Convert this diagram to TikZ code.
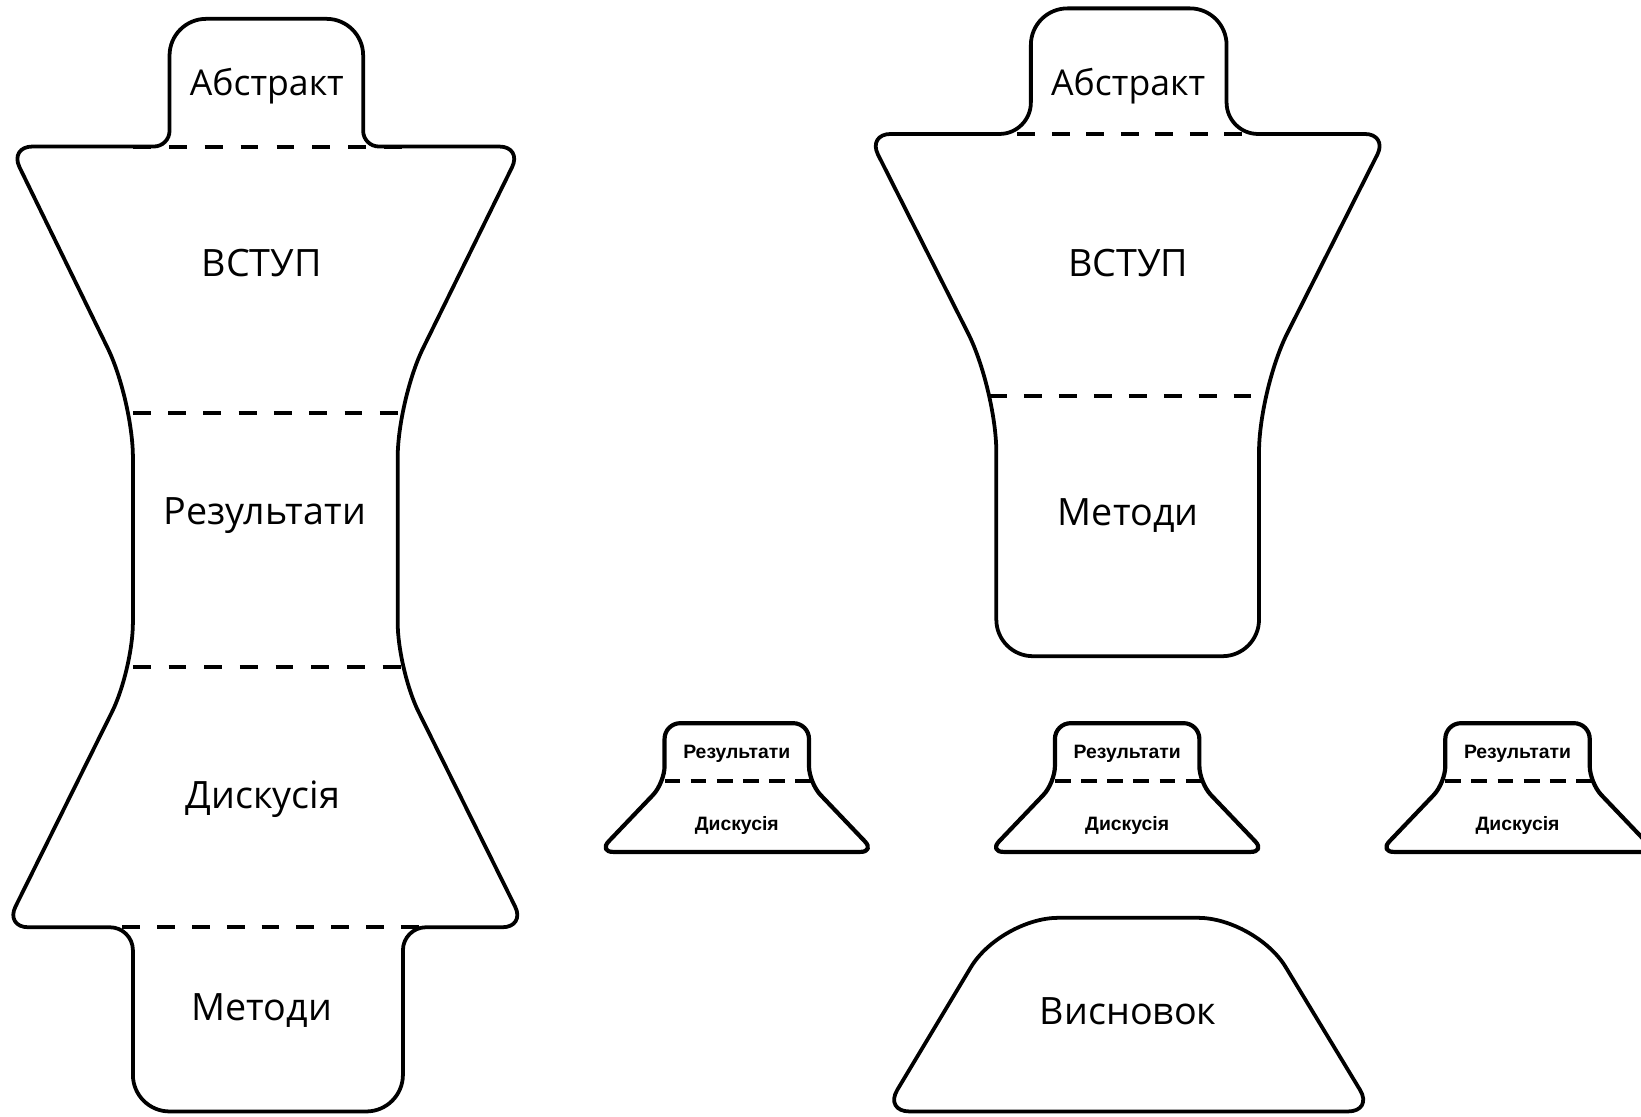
\documentclass[tikz,border=0pt]{standalone}
\usepackage{fontspec}
\setmainfont{Open Sans}
\newfontfamily\smallfnt{Liberation Sans}
\begin{document}
\begin{tikzpicture}[x=1pt,y=-1pt,
  outline/.style={draw=black,line width=3.6pt,line join=round},
  smalloutline/.style={draw=black,line width=4pt,line join=round},
  cutline/.style={draw=black,line width=3.8pt,dash pattern=on 17pt off #1pt},
  smallcut/.style={draw=black,line width=4.2pt,dash pattern=on 15pt off 10pt},
  biglabel/.style={font=\fontsize{36}{40}\selectfont,inner sep=0pt},
  smalllabel/.style={font=\smallfnt\bfseries\fontsize{18.5}{20}\selectfont,inner sep=0pt}]
\useasboundingbox (0,0) rectangle (1568,1066.35);

% ---------- left figure ----------
\path[outline] (254,18) [rounded corners=35pt] -- (347,18)
  [rounded corners=15pt] -- (347,140)
  [rounded corners=22pt] -- (499,140)
  [rounded corners=55pt] -- (380,382)
  [rounded corners=45pt] -- (380,640)
  [rounded corners=22pt] -- (502,886)
  [rounded corners=22pt] -- (385,886)
  [rounded corners=35pt] -- (385,1062)
  [rounded corners=35pt] -- (127,1062)
  [rounded corners=22pt] -- (127,886)
  [rounded corners=22pt] -- (5,886)
  [rounded corners=45pt] -- (127,640)
  [rounded corners=55pt] -- (127,382)
  [rounded corners=22pt] -- (9,140)
  [rounded corners=15pt] -- (162,140)
  [rounded corners=35pt] -- (162,18)
  -- cycle;
\coordinate (l1a) at (127,140); \coordinate (l1b) at (384,140);
\coordinate (l2a) at (127,395); \coordinate (l2b) at (380,395);
\coordinate (l3a) at (127,637); \coordinate (l3b) at (383,637);
\coordinate (l4a) at (117,886); \coordinate (l4b) at (400,886);
\draw[cutline=17.3] (l1a) -- (l1b);
\draw[cutline=16.7] (l2a) -- (l2b);
\draw[cutline=17.1] (l3a) -- (l3b);
\draw[cutline=16.25] (l4a) -- (l4b);
\node[biglabel,font=\fontsize{34}{38}\selectfont] (labs) at (255,82) {Абстракт};
\node[biglabel] (lvst) at (250,251) {ВСТУП};
\node[biglabel] (lres) at (253,493) {Результати};
\node[biglabel] (ldis) at (251,764) {Дискусія};
\node[biglabel] (lmet) at (250,966) {Методи};

% ---------- right top figure ----------
\path[outline] (1078,8) [rounded corners=35pt] -- (1172,8)
  [rounded corners=30pt] -- (1172,128)
  [rounded corners=22pt] -- (1326,128)
  [rounded corners=60pt] -- (1203,372)
  [rounded corners=35pt] -- (1203,627)
  [rounded corners=35pt] -- (952,627)
  [rounded corners=60pt] -- (952,372)
  [rounded corners=22pt] -- (829,128)
  [rounded corners=30pt] -- (985,128)
  [rounded corners=35pt] -- (985,8)
  -- cycle;
\coordinate (r1a) at (972,128); \coordinate (r1b) at (1187,128);
\coordinate (r2a) at (945,378); \coordinate (r2b) at (1197,378);
\draw[cutline=16] (r1a) -- (r1b);
\draw[cutline=16.4] (r2a) -- (r2b);
\node[biglabel,font=\fontsize{34}{38}\selectfont] (rabs) at (1078,82) {Абстракт};
\node[biglabel] (rvst) at (1078,251) {ВСТУП};
\node[biglabel] (rmet) at (1078,493) {Методи};

% ---------- small shapes ----------
\foreach \c/\n in {704/a,1077/b,1450/c}{
  \begin{scope}[xshift=\c pt]
  \path[smalloutline] (0,691) [rounded corners=15pt] -- (69,691)
    [rounded corners=16pt] -- (69,748)
    [rounded corners=14pt] -- (132,814)
    [rounded corners=14pt] -- (-132,814)
    [rounded corners=16pt] -- (-69,748)
    [rounded corners=15pt] -- (-69,691)
    -- cycle;
  \coordinate (s\n a) at (-69,746); \coordinate (s\n b) at (71,746);
  \draw[smallcut] (s\n a) -- (s\n b);
  \node[smalllabel] (sres\n) at (0,720) {Результати};
  \node[smalllabel] (sdis\n) at (0,789) {Дискусія};
  \end{scope}
}

% ---------- conclusion ----------
\path[outline] (1078,877) [rounded corners=55pt] -- (1200,877)
  [rounded corners=24pt] -- (1312,1062)
  [rounded corners=24pt] -- (845,1062)
  [rounded corners=55pt] -- (956,877)
  -- cycle;
\node[biglabel] (concl) at (1078,966) {Висновок};
\end{tikzpicture}
\end{document}
